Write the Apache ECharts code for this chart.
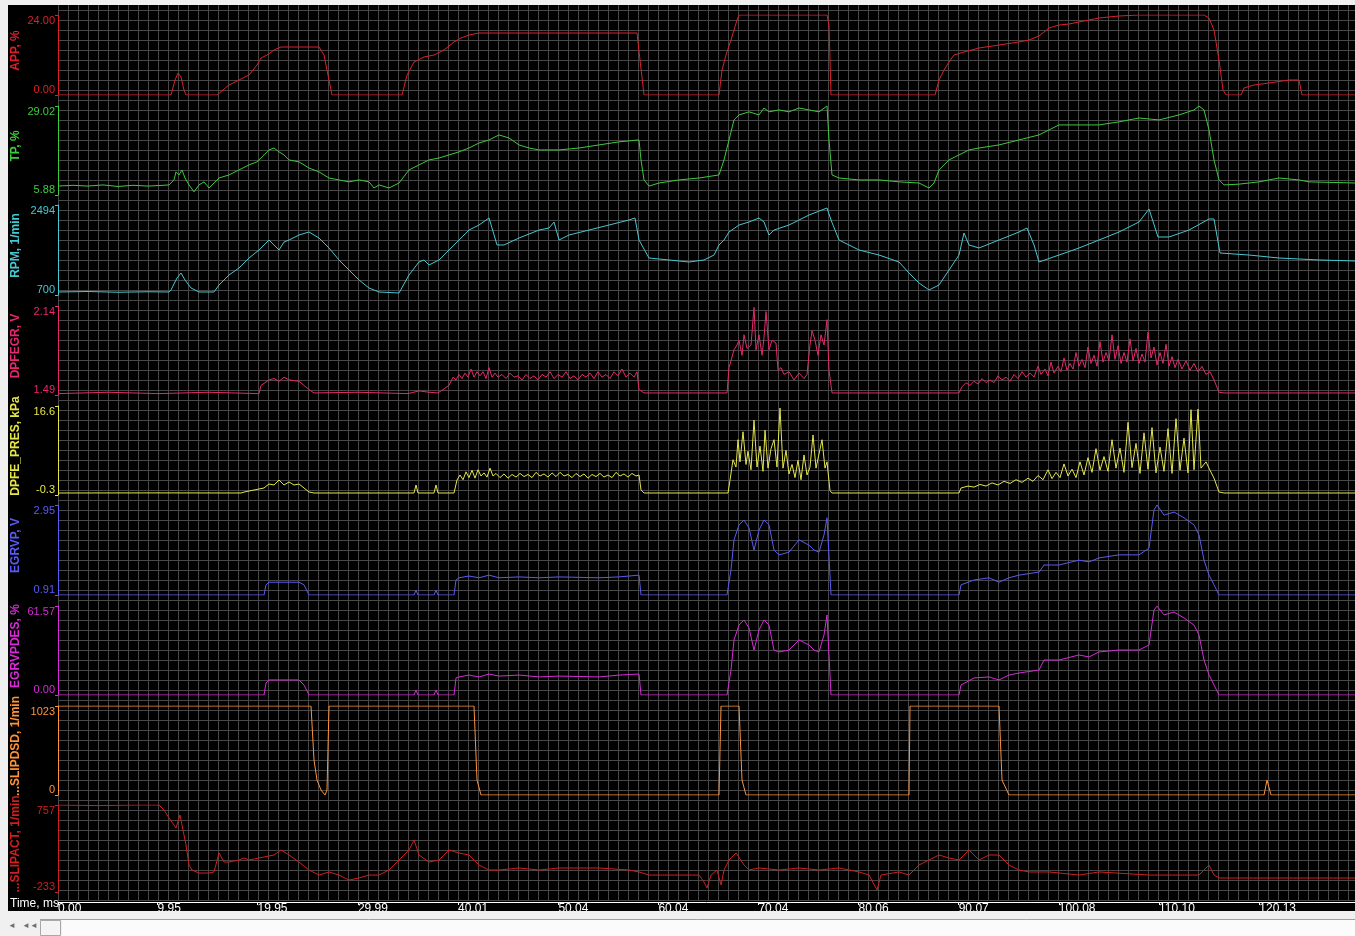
<!DOCTYPE html>
<html>
<head>
<meta charset="utf-8">
<title>EGR log</title>
<script src="https://cdn.jsdelivr.net/npm/echarts@6/dist/echarts.min.js"></script>
<style>
  html, body { margin: 0; padding: 0; background: #f0f0f0; }
  #main { width: 1355px; height: 936px; }
</style>
</head>
<body>
<div id="main"></div>
<script>
// time axis, s
var tMax = 129.7;
var timeTicks = [0, 9.95, 19.95, 29.99, 40.01, 50.04, 60.04, 70.04, 80.06, 90.07, 100.08, 110.10, 120.13];

// channels (top to bottom)
var channelNames = ['APP, %', 'TP, %', 'RPM, 1/min', 'DPFEGR, V', 'DPFE_PRES, kPa', 'EGRVP, V', 'EGRVPDES, %', '...SLIPDSD, 1/min', '...SLIPACT, 1/min'];
var axisMin = [0, 5.88, 700, 1.49, -0.3, 0.91, 0, 0, -233];
var axisMax = [24, 29.02, 2494, 2.14, 16.6, 2.95, 61.57, 1023, 757];
var minLabels = ['0.00', '5.88', '700', '1.49', '-0.3', '0.91', '0.00', '0', '-233'];
var maxLabels = ['24.00', '29.02', '2494', '2.14', '16.6', '2.95', '61.57', '1023', '757'];

var appData = [[0,0],[11.3,0],[11.7,4.5],[12.0,6.6],[12.3,5.4],[12.6,1.5],[12.8,0],[15.9,0],[17.1,3.0],[18.1,4.5],[19.1,6.0],[19.9,9.0],[20.3,11.1],[20.9,12.0],[21.6,13.5],[22.3,14.4],[26.1,14.4],[26.6,12.0],[27.1,4.5],[27.4,0],[34.4,0],[34.9,6.0],[35.6,9.9],[36.6,11.4],[37.6,12.0],[38.6,13.5],[39.6,15.9],[40.3,17.1],[41.1,18.0],[42.1,18.6],[57.9,18.6],[58.2,10.5],[58.6,0],[66.1,0],[66.4,7.5],[66.8,12.0],[67.3,16.5],[67.9,22.5],[68.1,24],[76.9,24],[77.1,21],[77.3,0],[87.7,0],[88.1,4.5],[88.6,7.5],[89.1,9.9],[89.6,12.0],[90.6,12.9],[92.1,14.1],[94.1,15.0],[96.1,15.9],[97.1,16.5],[98.1,17.7],[99.1,20.1],[100.1,21.0],[101.1,21.3],[102.1,21.9],[104.1,23.1],[106.1,23.7],[108.1,24],[114.6,24],[115.1,23.1],[115.6,19.5],[116.1,10.5],[116.5,1.5],[116.8,0],[118.3,0],[118.6,2.1],[119.6,3.0],[121.1,3.6],[123.1,4.5],[124.1,4.5],[124.4,0],[129.7,0]];

var tpData = [[0,8.2],[1.5,8.4],[3,8.2],[4.5,8.5],[6,8.1],[7.5,8.4],[9,8.2],[10.5,8.4],[11.1,8.5],[11.6,9.8],[11.8,11.9],[12.1,11.1],[12.4,12.4],[12.7,10.3],[13.1,8.5],[13.6,6.7],[14.1,8.5],[14.6,9.3],[15.1,7.7],[15.6,9.0],[16.1,10.3],[17.1,11.1],[18.1,12.4],[19.1,13.7],[19.9,14.5],[20.6,16.3],[21.1,17.6],[21.6,18.1],[22.1,17.1],[22.6,16.3],[23.1,15.0],[24.1,14.5],[25.1,12.9],[26.1,11.9],[27.1,10.3],[28.1,9.8],[29.1,9.3],[30.1,9.8],[31.1,9.3],[31.6,7.7],[32.1,8.5],[33.1,7.7],[34.1,9.0],[35.1,12.4],[36.1,13.7],[37.1,15.0],[38.1,15.5],[39.1,16.3],[40.1,17.1],[41.1,18.1],[42.1,19.4],[43.1,20.2],[44.1,21.5],[45.1,20.7],[46.1,18.9],[47.1,18.1],[48.1,17.6],[50.1,17.6],[52.1,18.1],[54.1,18.9],[56.1,19.7],[58.1,20.2],[58.3,15.0],[58.6,9.8],[59.1,8.2],[60.1,9.0],[62.1,9.8],[64.1,10.3],[66.1,11.1],[66.6,15.0],[67.1,20.2],[67.6,25.4],[68.1,26.7],[69.1,27.5],[70.1,26.7],[70.6,28.5],[71.1,27.5],[72.1,28.0],[73.1,27.5],[74.1,28.5],[75.1,28.0],[76.1,27.5],[76.9,29.0],[77.1,20.2],[77.4,11.1],[78.1,10.3],[80.1,9.8],[82.1,9.8],[84.1,9.3],[86.1,9.0],[87.1,7.7],[87.6,9.0],[88.1,12.4],[89.1,15.0],[90.1,16.3],[91.1,17.6],[92.1,18.1],[94.1,18.9],[96.1,20.2],[98.1,21.5],[99.1,22.8],[100.1,24.1],[102.1,24.1],[104.1,24.1],[106.1,24.9],[108.1,25.9],[110.1,25.4],[112.1,26.7],[113.6,28.0],[114.1,29.0],[114.6,28.0],[115.1,22.8],[115.6,15.0],[116.1,9.8],[116.6,8.5],[118.1,8.7],[120.1,9.3],[122.1,10.3],[124.1,9.8],[125.1,9.3],[129.7,9.0]];

var rpmData = [[0,760],[3,770],[6,755],[9,765],[11.1,760],[11.3,800],[11.9,1039],[12.3,1138],[12.7,999],[13.3,840],[14.1,760],[15.6,760],[16.1,899],[17.1,1099],[18.1,1238],[19.1,1437],[20.1,1597],[20.6,1697],[21.1,1796],[21.6,1697],[22.1,1597],[22.6,1756],[23.1,1796],[24.1,1896],[25.1,1956],[26.1,1836],[27.1,1637],[28.1,1398],[29.1,1198],[30.1,999],[31.1,840],[32.1,760],[34.1,740],[35.1,1099],[36.1,1358],[36.6,1398],[37.1,1298],[38.1,1398],[39.1,1597],[40.1,1796],[41.1,1995],[42.1,2095],[43.1,2235],[43.4,2035],[43.9,1697],[44.6,1697],[46.1,1836],[48.1,1995],[49.1,2035],[49.6,2155],[50.1,1796],[51.1,1896],[53.1,1995],[55.1,2095],[57.1,2195],[57.7,2235],[58.1,1796],[59.1,1437],[61.1,1398],[63.1,1358],[64.6,1398],[65.6,1497],[66.1,1697],[66.6,1796],[67.1,1956],[68.1,2095],[69.1,2155],[70.1,2235],[70.6,2155],[71.1,1896],[71.6,1995],[73.1,2095],[75.1,2294],[76.9,2434],[77.3,2195],[78.1,1796],[80.1,1597],[82.1,1497],[84.1,1358],[85.1,1138],[86.1,939],[87.1,800],[88.1,899],[89.1,1198],[90.1,1497],[90.6,1936],[91.1,1697],[92.1,1637],[94.1,1796],[96.1,1956],[96.9,2035],[97.6,1697],[98.1,1358],[100.1,1497],[102.1,1637],[104.1,1796],[106.1,1956],[108.1,2155],[109.1,2414],[109.3,2434],[110.0,1856],[111.1,1856],[113.1,1995],[115.1,2215],[115.6,2215],[116.2,1537],[119.1,1497],[122.1,1437],[126.1,1398],[129.7,1378]];

var dpfegrData = [[0,1.50],[5,1.51],[10,1.50],[15,1.51],[20.1,1.50],[20.3,1.56],[21.1,1.60],[21.6,1.61],[22.1,1.59],[22.6,1.62],[23.1,1.60],[24.1,1.59],[24.6,1.56],[25.1,1.53],[25.6,1.505],[30,1.51],[35,1.50],[36.1,1.52],[37.1,1.51],[38,1.505],
  [39.1,1.56],[39.5,1.62],[39.8,1.60],[40.1,1.64],[40.4,1.61],[40.7,1.65],[41.0,1.62],[41.3,1.68],[41.6,1.62],[41.9,1.66],[42.2,1.63],[42.5,1.66],[42.8,1.61],[43.1,1.69],[43.4,1.62],[43.7,1.65],[44.0,1.62],[44.4,1.64],[44.8,1.61],[45.2,1.65],[45.6,1.62],[46.0,1.63],[46.4,1.60],[46.8,1.64],[47.2,1.61],[47.6,1.63],[48.0,1.60],[48.4,1.64],[48.8,1.62],[49.2,1.66],[49.6,1.61],[50.0,1.64],[50.4,1.62],[50.8,1.66],[51.2,1.61],[51.6,1.63],[52.0,1.60],[52.4,1.64],[52.8,1.62],[53.2,1.65],[53.6,1.61],[54.0,1.66],[54.4,1.62],[54.8,1.64],[55.2,1.61],[55.6,1.66],[56.0,1.63],[56.4,1.68],[56.8,1.62],[57.2,1.65],[57.6,1.62],[57.9,1.66],[58.1,1.53],[58.6,1.505],
  [66.9,1.505],[67.1,1.69],[67.6,1.82],[67.9,1.855],[68.1,1.89],[68.4,1.78],[68.6,1.93],[68.9,1.83],[69.3,1.855],[69.6,2.13],[69.8,1.82],[70.1,1.93],[70.4,1.78],[70.6,1.91],[70.8,2.10],[71.1,1.82],[71.4,1.89],[71.8,1.87],[72.0,1.67],[72.3,1.69],[72.6,1.64],[73.1,1.66],[73.6,1.60],[74.1,1.65],[74.6,1.61],[74.9,1.64],[75.2,1.855],[75.4,1.96],[75.7,1.89],[76.0,1.78],[76.3,1.93],[76.6,1.855],[76.9,2.04],[77.1,1.67],[77.4,1.505],
  [90.1,1.505],[90.4,1.55],[90.8,1.58],[91.2,1.56],[91.6,1.59],[92.0,1.57],[92.4,1.61],[92.8,1.58],[93.2,1.60],[93.6,1.58],[94.0,1.63],[94.4,1.60],[94.8,1.62],[95.2,1.59],[95.6,1.64],[96.0,1.61],[96.4,1.66],[96.8,1.62],[97.2,1.65],[97.6,1.62],[98.0,1.70],[98.3,1.64],[98.7,1.68],[99.0,1.63],[99.3,1.73],[99.6,1.65],[100.0,1.70],[100.3,1.66],[100.6,1.76],[100.9,1.67],[101.2,1.72],[101.5,1.68],[101.8,1.80],[102.1,1.70],[102.4,1.75],[102.7,1.69],[103.0,1.84],[103.3,1.72],[103.6,1.78],[103.9,1.70],[104.2,1.88],[104.5,1.73],[104.8,1.80],[105.1,1.74],[105.4,1.93],[105.7,1.75],[106.0,1.85],[106.3,1.72],[106.6,1.80],[106.9,1.73],[107.2,1.90],[107.5,1.74],[107.8,1.83],[108.1,1.72],[108.4,1.79],[108.7,1.73],[109.0,1.95],[109.3,1.76],[109.6,1.84],[109.9,1.71],[110.2,1.80],[110.5,1.72],[110.8,1.86],[111.1,1.70],[111.4,1.77],[111.7,1.69],[112.0,1.75],[112.4,1.68],[112.8,1.74],[113.2,1.67],[113.6,1.72],[114.0,1.66],[114.4,1.70],[114.8,1.64],[115.2,1.66],[115.6,1.60],[116.1,1.51],[116.6,1.505],[129.7,1.505]];

var dpfePresData = [[0,0.08],[10,0.1],[18.3,0.08],[18.7,0.3],[20.6,1.03],[21.1,1.79],[21.6,1.6],[22.1,2.55],[22.6,1.6],[23.1,2.17],[23.6,1.6],[24.1,1.79],[24.6,1.03],[25.1,0.27],[25.6,0.08],[35.6,0.08],[35.8,1.6],[36.0,0.08],[37.6,0.08],[37.8,1.6],[38.0,0.08],[39.6,0.08],
  [39.9,2.55],[40.2,3.5],[40.5,2.6],[40.8,4.1],[41.1,3.0],[41.4,4.4],[41.7,2.9],[42.0,4.5],[42.3,3.3],[42.6,3.9],[42.9,3.1],[43.2,4.8],[43.5,3.3],[43.8,3.8],[44.2,3.0],[44.6,3.7],[45.0,2.9],[45.4,3.6],[45.8,3.1],[46.2,3.8],[46.6,3.2],[47.0,3.6],[47.4,3.0],[47.8,4.0],[48.2,3.3],[48.6,3.7],[49.0,3.1],[49.4,3.9],[49.8,3.2],[50.2,4.0],[50.6,3.3],[51.0,3.6],[51.4,3.0],[51.8,3.8],[52.2,3.2],[52.6,3.7],[53.0,2.9],[53.4,3.6],[53.8,3.2],[54.2,3.8],[54.6,3.1],[55.0,3.5],[55.4,3.0],[55.8,4.0],[56.2,3.3],[56.6,3.7],[57.0,3.1],[57.4,3.8],[57.8,3.3],[58.1,3.5],[58.3,0.65],[58.6,0.08],
  [67.0,0.08],[67.2,2.5],[67.5,6.4],[67.8,5.0],[68.0,10.2],[68.2,6.0],[68.5,11.7],[68.8,5.5],[69.0,8.0],[69.3,4.5],[69.6,13.9],[69.9,5.0],[70.2,9.0],[70.5,4.2],[70.7,12.0],[71.0,4.8],[71.3,8.5],[71.6,10.2],[71.9,5.0],[72.2,16.2],[72.5,4.8],[72.8,8.2],[73.1,3.7],[73.4,5.5],[73.7,3.0],[74.0,6.3],[74.3,2.6],[74.6,7.3],[74.9,3.5],[75.2,5.0],[75.5,11.1],[75.8,4.8],[76.1,7.5],[76.4,10.2],[76.7,4.8],[76.9,6.0],[77.2,0.5],[77.4,0.08],
  [90.1,0.08],[90.3,1.03],[91.0,1.4],[91.6,1.2],[92.2,1.7],[92.8,1.4],[93.4,2.0],[94.0,1.6],[94.6,2.3],[95.2,1.9],[95.8,2.6],[96.4,2.1],[97.0,2.9],[97.5,2.3],[98.0,3.4],[98.5,2.6],[99.0,4.5],[99.4,2.8],[99.8,4.0],[100.2,3.0],[100.6,5.6],[101.0,3.3],[101.4,4.6],[101.8,3.0],[102.2,6.0],[102.6,3.5],[103.0,6.8],[103.4,4.0],[103.8,8.5],[104.2,4.4],[104.6,7.0],[105.0,4.2],[105.4,10.2],[105.8,4.8],[106.2,8.6],[106.6,4.0],[107.0,13.5],[107.4,4.9],[107.8,9.5],[108.2,3.8],[108.6,11.5],[109.0,4.6],[109.4,12.5],[109.8,3.9],[110.2,8.8],[110.6,4.2],[111.0,12.3],[111.4,3.8],[111.8,14.2],[112.2,4.4],[112.6,10.5],[113.0,3.9],[113.3,15.9],[113.6,4.5],[114.0,16.0],[114.3,4.8],[114.8,6.0],[115.2,4.4],[115.6,2.9],[116.1,0.27],[116.6,0.08],[129.7,0.08]];

var egrvpData = [[0,0.91],[20.6,0.91],[20.8,1.14],[21.1,1.20],[23.1,1.20],[24.1,1.20],[24.6,1.14],[25.1,0.91],[35.6,0.91],[35.8,1.02],[36.0,0.91],[37.6,0.91],[37.8,1.02],[38.0,0.91],[39.6,0.91],[39.8,1.25],[40.1,1.30],[41.1,1.34],[42.1,1.30],[43.1,1.36],[44.1,1.30],[46.1,1.32],[48.1,1.30],[50.1,1.32],[54.1,1.30],[56.1,1.32],[58.1,1.36],[58.3,0.91],[66.9,0.91],[67.3,1.48],[67.6,2.16],[68.1,2.50],[68.6,2.61],[69.1,2.43],[69.6,1.93],[70.1,2.38],[70.6,2.61],[71.1,2.50],[71.6,1.93],[72.1,1.82],[73.1,1.88],[74.1,2.16],[75.1,2.04],[75.6,1.93],[76.1,1.88],[76.6,2.27],[76.9,2.66],[77.3,0.91],[90.1,0.91],[90.3,1.14],[91.6,1.25],[93.1,1.30],[94.1,1.20],[95.1,1.30],[96.1,1.36],[98.1,1.43],[98.6,1.59],[100.1,1.59],[102.1,1.70],[103.1,1.66],[104.1,1.75],[106.1,1.82],[108.1,1.82],[109.1,1.97],[109.6,2.84],[109.9,2.95],[110.6,2.72],[111.6,2.79],[112.6,2.66],[113.6,2.50],[114.1,2.27],[114.6,1.70],[115.1,1.36],[115.6,1.14],[116.1,0.91],[129.7,0.91]];

var egrvpdesData = [[0,0],[20.6,0],[20.8,8.3],[21.1,10.4],[24.1,10.4],[24.6,6.9],[25.1,0],[35.6,0],[35.8,3.5],[36.0,0],[37.6,0],[37.8,3.5],[38.0,0],[39.6,0],[39.8,11.8],[40.1,12.5],[41.1,13.8],[42.1,12.5],[43.1,14.5],[44.1,13.1],[46.1,13.8],[48.1,12.5],[50.1,13.1],[54.1,12.5],[56.1,13.8],[58.1,14.5],[58.3,0],[66.9,0],[67.3,17.3],[67.6,38.1],[68.1,48.4],[68.6,51.9],[69.1,46.4],[69.6,31.1],[70.1,45.0],[70.6,51.9],[71.1,48.4],[71.6,31.1],[72.1,29.8],[73.1,31.1],[74.1,38.1],[75.1,34.6],[75.6,31.1],[76.1,29.8],[76.6,41.5],[76.9,55.4],[77.3,0],[90.1,0],[90.3,6.9],[91.6,11.8],[93.1,12.5],[94.1,10.4],[95.1,13.8],[96.1,15.2],[98.1,17.3],[98.6,24.2],[100.1,24.2],[102.1,27.7],[103.1,26.3],[104.1,29.8],[106.1,31.1],[108.1,31.1],[109.1,34.6],[109.6,58.8],[109.9,61.5],[110.6,55.4],[111.6,57.4],[112.6,53.3],[113.6,48.4],[114.1,41.5],[114.6,24.2],[115.1,13.8],[115.6,6.9],[116.1,0],[129.7,0]];

var slipdsdData = [[0,1023],[25.3,1023],[25.6,402],[25.9,172],[26.3,57],[26.7,0],[26.9,57],[27.1,1023],[41.6,1023],[41.9,172],[42.3,0],[66.1,0],[66.3,1023],[68.1,1023],[68.4,172],[68.8,0],[85.1,0],[85.2,1023],[94.1,1023],[94.4,172],[95.1,0],[120.6,0],[120.9,172],[121.3,0],[129.7,0]];

var slipactData = [[0,757],[4,750],[8,757],[10.1,757],[10.6,700],[11.1,609],[11.6,529],[11.8,495],[12.2,643],[12.5,472],[12.8,302],[13.1,74],[13.4,17],[14.1,-17],[15.1,-17],[15.6,-5],[16.1,211],[16.6,108],[17.1,108],[18.1,131],[18.6,154],[19.1,131],[20.1,154],[21.6,188],[22.3,245],[23.1,188],[24.1,108],[25.1,17],[26.1,-40],[27.1,-5],[28.1,-40],[29.1,-97],[30.1,-74],[31.1,-40],[32.1,-40],[33.1,17],[34.1,131],[35.1,245],[35.6,359],[36.1,188],[37.1,108],[38.1,131],[39.1,245],[40.1,211],[41.1,188],[42.1,74],[43.1,17],[44.1,17],[46.1,40],[48.1,17],[50.1,40],[54.1,40],[57.1,17],[58.1,-5],[59.1,-40],[62.1,-40],[64.1,-40],[64.6,-119],[64.9,-188],[65.3,-40],[65.9,17],[66.3,-153],[66.6,17],[67.1,131],[67.8,211],[68.6,74],[69.1,17],[70.1,40],[72.1,17],[74.1,40],[76.1,17],[78.1,40],[80.1,-5],[81.1,-40],[81.9,-210],[82.3,-40],[84.1,-5],[85.1,-40],[86.1,74],[87.1,131],[88.1,188],[89.1,154],[90.1,131],[91.1,245],[92.1,131],[93.1,188],[94.1,188],[95.1,74],[96.1,17],[97.1,-5],[99.1,-5],[102.1,-40],[104.1,-5],[109.1,-40],[114.1,-40],[115.1,74],[115.6,-40],[116.1,-74],[120.1,-74],[125.1,-74],[129.7,-74]];

var channelData = [appData, tpData, rpmData, dpfegrData, dpfePresData, egrvpData, egrvpdesData, slipdsdData, slipactData];

// layout and colours
var channelColors = ['#e01e28', '#3ccc3c', '#46c8d2', '#e6286e', '#e6e64a', '#5a5af5', '#d82ad8', '#ff9238', '#d21e1e'];
var panelTops = [15, 106, 205, 306, 406, 505, 606, 706, 805];
var panelHeights = [80, 89, 90, 89, 89, 90, 89, 89, 87];
var FONT = 'Liberation Sans, Arial, sans-serif';

var chart = echarts.init(document.getElementById('main'));

var grids = [{ left: 58, top: 0, width: 1297, height: 900 }];
var xAxes = [{
  gridIndex: 0, type: 'value', min: 0, max: tMax, interval: 1,
  axisLine: { show: false }, axisTick: { show: false }, axisLabel: { show: false },
  splitLine: { show: true, lineStyle: { color: '#484848', width: 1 } }
}];
var yAxes = [{
  gridIndex: 0, type: 'value', min: 0, max: 90, interval: 1,
  axisLine: { show: false }, axisTick: { show: false }, axisLabel: { show: false },
  splitLine: { show: true, lineStyle: { color: '#484848', width: 1 } }
}];
var series = [];

channelNames.forEach(function (name, i) {
  var gi = i + 1;
  var color = channelColors[i];
  var last = i === channelNames.length - 1;
  grids.push({ left: 58, top: panelTops[i], width: 1297, height: panelHeights[i] });
  xAxes.push({
    gridIndex: gi, type: 'value', min: 0, max: tMax, show: last, offset: 10,
    axisLine: { onZero: false, lineStyle: { color: '#ffffff', width: 1 } },
    axisTick: { customValues: timeTicks, length: 3, lineStyle: { color: '#ffffff' } },
    axisLabel: {
      customValues: timeTicks, formatter: function (v) { return v.toFixed(2); },
      align: 'left', color: '#ffffff', fontSize: 12, fontFamily: FONT, margin: 1
    },
    splitLine: { show: false }
  });
  yAxes.push({
    gridIndex: gi, type: 'value', min: axisMin[i], max: axisMax[i],
    name: name, nameLocation: 'middle', nameGap: 36, nameRotate: 90,
    nameMoveOverlap: false,
    nameTruncate: { maxWidth: 300 },
    nameTextStyle: { color: color, fontWeight: 'bold', fontSize: 12, fontFamily: FONT, padding: [0, 0, 0, 9] },
    axisLine: { show: true, onZero: false, lineStyle: { color: color, width: 1 } },
    axisTick: { show: true, customValues: [axisMin[i], axisMax[i]], length: 3, lineStyle: { color: color } },
    axisLabel: {
      customValues: [axisMin[i], axisMax[i]],
      formatter: function (v) { return v === axisMax[i] ? maxLabels[i] : minLabels[i]; },
      color: color, fontSize: 11, fontFamily: FONT, margin: 3,
      verticalAlignMinLabel: 'bottom', verticalAlignMaxLabel: 'top'
    },
    splitLine: { show: false }
  });
  series.push({
    type: 'line', xAxisIndex: gi, yAxisIndex: gi, data: channelData[i],
    showSymbol: false, silent: true, lineStyle: { color: color, width: 1 }
  });
});

chart.setOption({
  backgroundColor: '#000000',
  animation: false,
  grid: grids,
  xAxis: xAxes,
  yAxis: yAxes,
  series: series,
  graphic: [
    { type: 'rect', z: 100, shape: { x: 0, y: 0, width: 1355, height: 5 }, style: { fill: '#f0f0f0' } },
    { type: 'rect', z: 100, shape: { x: 0, y: 0, width: 8, height: 912 }, style: { fill: '#f0f0f0' } },
    { type: 'rect', z: 100, shape: { x: 0, y: 911, width: 1355, height: 25 }, style: { fill: '#f0f0f0' } },
    { type: 'line', z: 101, shape: { x1: 40, y1: 919.5, x2: 1355, y2: 919.5 }, style: { stroke: '#a0a0a0', lineWidth: 1 } },
    { type: 'rect', z: 101, shape: { x: 62, y: 920, width: 1293, height: 16 }, style: { fill: '#fbfbfb' } },
    { type: 'rect', z: 102, shape: { x: 40.5, y: 920.5, width: 20, height: 15 }, style: { fill: '#f4f4f4', stroke: '#a8a8a8', lineWidth: 1 } },
    { type: 'text', z: 102, left: 8, top: 922, style: { text: '\u25C4', fill: '#707070', font: '8px ' + FONT } },
    { type: 'text', z: 102, left: 22, top: 922, style: { text: '\u25C4\u25C4', fill: '#707070', font: '8px ' + FONT } },
    { type: 'text', z: 102, left: 10, top: 898, style: { text: 'Time, ms', fill: '#ffffff', font: '12px ' + FONT } }
  ]
});
</script>
</body>
</html>
